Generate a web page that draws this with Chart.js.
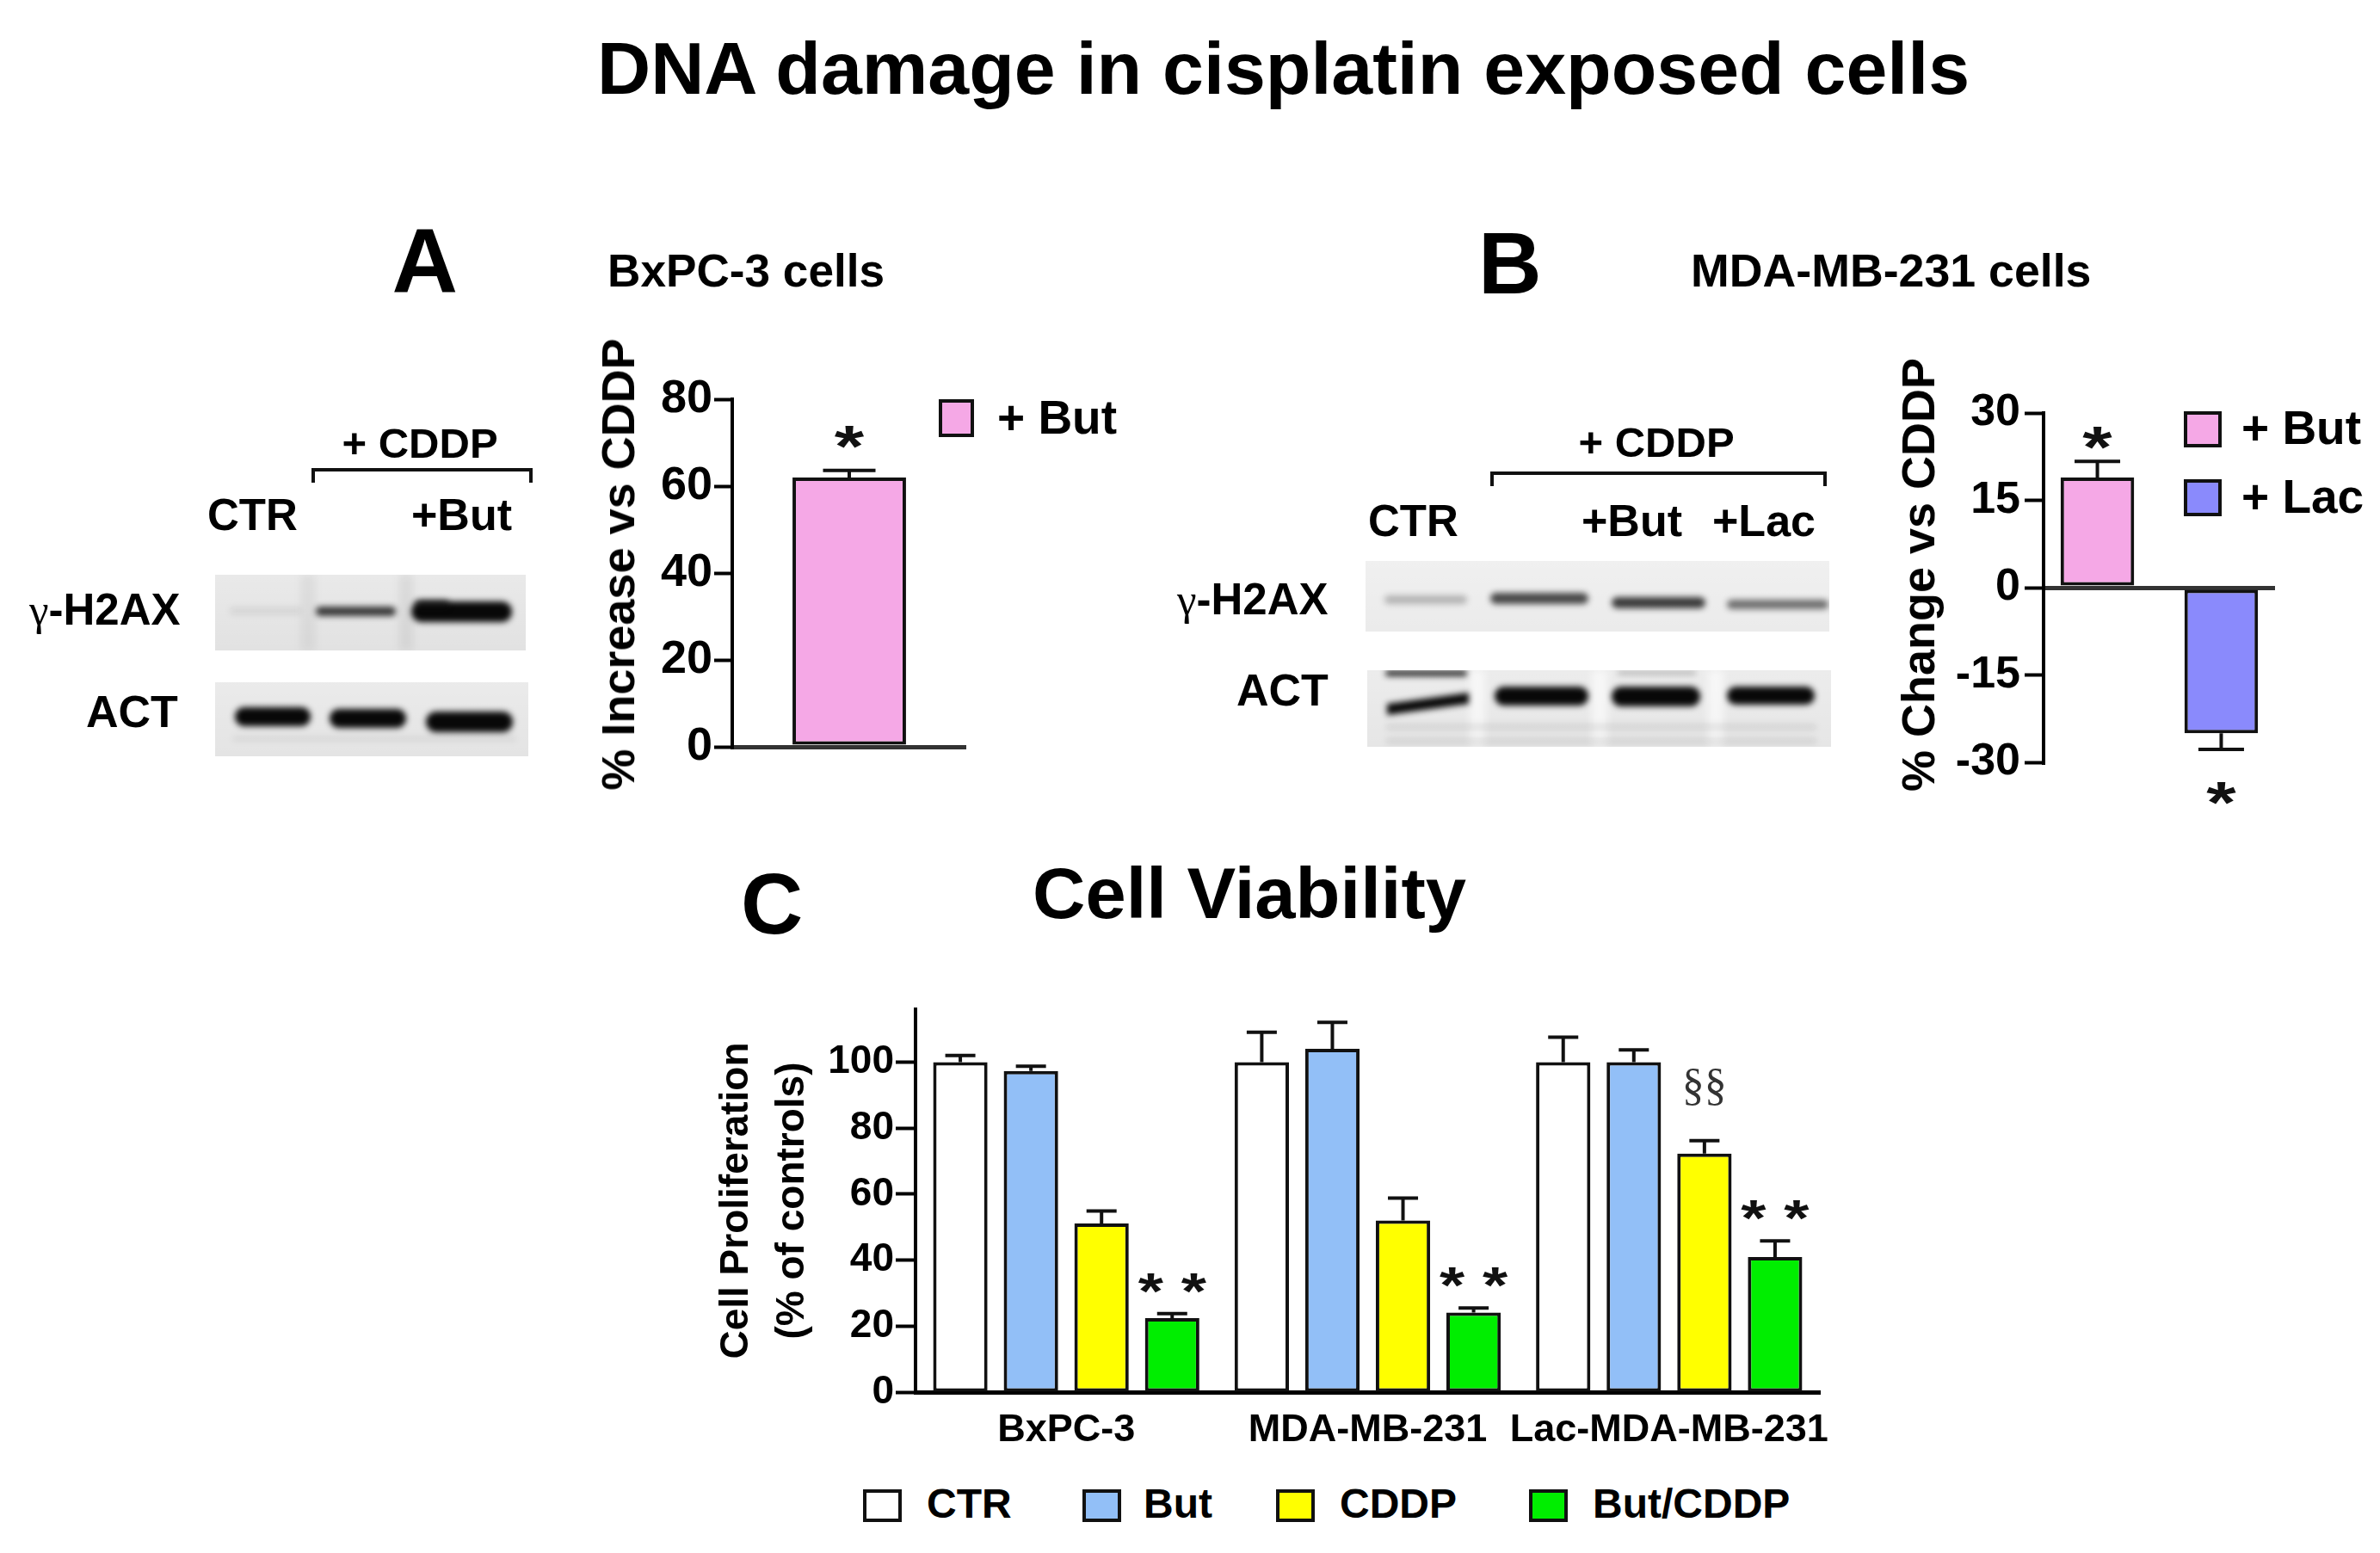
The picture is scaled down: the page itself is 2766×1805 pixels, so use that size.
<!DOCTYPE html>
<html>
<head>
<meta charset="utf-8">
<title>DNA damage in cisplatin exposed cells</title>
<script src="https://cdn.jsdelivr.net/npm/chart.js@4.4.1/dist/chart.umd.min.js"></script>
<style>
html, body { margin: 0; padding: 0; background: #fff; }
#page { position: relative; width: 2766px; height: 1805px; overflow: hidden;
  font-family: "Liberation Sans", Arial, sans-serif; font-weight: bold; color: #000; }
.t { position: absolute; white-space: nowrap; line-height: 1; }
.g { font-family: "Liberation Serif", serif; font-weight: normal; }
.key { position: absolute; box-sizing: border-box; border: 4px solid #111; }
.brk { position: absolute; box-sizing: border-box; border: 4px solid #111; border-bottom: none; }
.plot { position: absolute; }
canvas.blot { position: absolute; }
</style>
</head>
<body>
<div id="page">
  <canvas class="blot" id="blotAg"></canvas>
  <canvas class="blot" id="blotAa"></canvas>
  <canvas class="blot" id="blotBg"></canvas>
  <canvas class="blot" id="blotBa"></canvas>
  <div class="brk" style="left:362px;top:544px;width:257px;height:17px"></div>
  <div class="brk" style="left:1732px;top:548px;width:391px;height:17px"></div>
  <div class="plot" style="left:651px;top:424px;width:482px;height:484px"><canvas id="chartA"></canvas></div>
  <div class="plot" style="left:2175px;top:440px;width:479px;height:506px"><canvas id="chartB"></canvas></div>
  <div class="plot" style="left:814px;top:1143px;width:1311px;height:570px"><canvas id="chartC"></canvas></div>
  <div class="key" id="keyA" style="left:1091px;top:464px;width:41px;height:44px"></div>
  <div class="key" id="keyB1" style="left:2538px;top:478px;width:44px;height:42px"></div>
  <div class="key" id="keyB2" style="left:2538px;top:557px;width:44px;height:43px"></div>
  <div class="key" id="keyC0" style="left:1003px;top:1731px;width:45px;height:38px"></div>
  <div class="key" id="keyC1" style="left:1258px;top:1731px;width:45px;height:38px"></div>
  <div class="key" id="keyC2" style="left:1483px;top:1731px;width:45px;height:38px"></div>
  <div class="key" id="keyC3" style="left:1777px;top:1731px;width:45px;height:38px"></div>
</div>
<script>
// ---- data ----
// panel A: BxPC-3, % increase of gamma-H2AX vs CDDP
const catsA = ['BxPC-3'];
const butA = [62.0];
const butAErr = [1.6];
const butAMarks = ['*'];

// panel B: MDA-MB-231, % change vs CDDP
const catsB = ['MDA-MB-231'];
const butB = [18.9];
const butBErr = [2.8];
const butBMarks = ['*'];
const lacB = [-25.0];
const lacBErr = [2.8];
const lacBMarks = ['*'];

// panel C: cell viability (% of controls)
const groupsC = ['BxPC-3', 'MDA-MB-231', 'Lac-MDA-MB-231'];
const seriesC = ['CTR', 'But', 'CDDP', 'But/CDDP'];
const ctrC = [100, 100, 100];
const ctrErrC = [2.0, 9.0, 7.5];
const butC = [97.3, 104, 100];
const butErrC = [1.4, 8.0, 3.7];
const cddpC = [51.1, 52.0, 72.3];
const cddpErrC = [3.8, 6.8, 3.9];
const comboC = [22.4, 24.1, 40.9];
const comboErrC = [1.4, 1.4, 4.9];
const cddpMarksC = ['', '', '§§'];
const comboMarksC = ['* *', '* *', '* *'];

const PINK = '#F5A8E6';
const LAC_BLUE = '#8A8AFC';
const BUT_BLUE = '#92BFF7';
const YELLOW = '#FFFF00';
const GREEN = '#00EE00';
const EDGE = '#111';
const colorsC = ['#FFFFFF', BUT_BLUE, YELLOW, GREEN];

const page = document.getElementById('page');

// text placed by baseline; anchor left / center / right; optional width fit
function text(str, x, base, size, anchor, width) {
  const el = document.createElement('div');
  el.className = 't';
  el.innerHTML = str;
  el.style.fontSize = size + 'px';
  el.style.top = (base - 0.8465 * size) + 'px';
  el.style.left = '0px';
  page.appendChild(el);
  const w = el.offsetWidth;
  const k = width ? width / w : 1;
  let left = x - w * k / 2;
  if (anchor === 'left') left = x;
  if (anchor === 'right') left = x - w * k;
  el.style.left = left + 'px';
  el.style.transformOrigin = '0 0';
  if (k !== 1) el.style.transform = 'scaleX(' + k + ')';
}

// vertical (rotated) axis title centred on cx, cy
function vtext(str, cx, cy, size) {
  const el = document.createElement('div');
  el.className = 't';
  el.textContent = str;
  el.style.fontSize = size + 'px';
  el.style.left = cx + 'px';
  el.style.top = cy + 'px';
  el.style.transform = 'translate(-50%, -50%) rotate(-90deg)';
  page.appendChild(el);
}

text('DNA damage in cisplatin exposed cells', 1491, 109, 86, 'center', 1595);
text('A', 494, 340, 106, 'center');
text('BxPC-3 cells', 706, 333, 53, 'left', 322);
text('B', 1755, 341, 102, 'center');
text('MDA-MB-231 cells', 1965, 333, 53, 'left', 465);
text('C', 897, 1085, 100, 'center');
text('Cell Viability', 1452, 1067, 84, 'center', 504);

text('+ CDDP', 488, 532, 49, 'center');
text('CTR', 241, 616, 51, 'left');
text('+But', 478, 616, 52, 'left');
text('<span class="g">γ</span>-H2AX', 210, 726, 51, 'right');
text('ACT', 207, 845, 52, 'right');

text('+ CDDP', 1925, 531, 49, 'center');
text('CTR', 1590, 623, 51, 'left');
text('+But', 1838, 623, 52, 'left');
text('+Lac', 1990, 623, 52, 'left');
text('<span class="g">γ</span>-H2AX', 1544, 714, 51, 'right');
text('ACT', 1544, 820, 52, 'right');

vtext('% Increase vs CDDP', 718, 656, 54);
vtext('% Change vs CDDP', 2229, 668, 54);

text('+ But', 1159, 505, 55, 'left');
text('+ But', 2605, 517, 55, 'left');
text('+ Lac', 2605, 597, 55, 'left');
document.getElementById('keyA').style.background = PINK;
document.getElementById('keyB1').style.background = PINK;
document.getElementById('keyB2').style.background = LAC_BLUE;

// legend of panel C
const keyTextX = [1077, 1329, 1557, 1851];
seriesC.forEach((s, i) => {
  document.getElementById('keyC' + i).style.background = colorsC[i];
  text(s, keyTextX[i], 1765, 48, 'left');
});

// ---- western blot strips ----
function rr(ctx, x, y, w, h) {
  const r = Math.min(h / 2, w / 2);
  ctx.beginPath();
  ctx.moveTo(x + r, y);
  ctx.lineTo(x + w - r, y);
  ctx.arc(x + w - r, y + r, r, -Math.PI / 2, Math.PI / 2);
  ctx.lineTo(x + r, y + h);
  ctx.arc(x + r, y + r, r, Math.PI / 2, Math.PI * 1.5);
  ctx.closePath();
}

function drawBlot(id, b) {
  const cv = document.getElementById(id);
  cv.width = b.w; cv.height = b.h;
  cv.style.left = b.x + 'px'; cv.style.top = b.y + 'px';
  const ctx = cv.getContext('2d');
  ctx.fillStyle = b.bg;
  ctx.fillRect(0, 0, b.w, b.h);
  const gr = ctx.createLinearGradient(0, 0, 0, b.h);
  gr.addColorStop(0, 'rgba(255,255,255,0.25)');
  gr.addColorStop(1, 'rgba(255,255,255,0)');
  ctx.fillStyle = gr;
  ctx.fillRect(0, 0, b.w, b.h);
  ctx.filter = 'blur(5px)';
  (b.seps || []).forEach(s => {
    ctx.fillStyle = s.c;
    ctx.fillRect(s.x - s.w / 2, 0, s.w, b.h);
  });
  ctx.filter = 'blur(3.5px)';
  b.bands.forEach(d => {
    ctx.fillStyle = 'rgba(8,8,8,' + d.a + ')';
    if (d.slant) {
      ctx.beginPath();
      ctx.moveTo(d.x, d.y);
      ctx.lineTo(d.x + d.w, d.y - d.slant);
      ctx.lineTo(d.x + d.w, d.y - d.slant + d.h);
      ctx.lineTo(d.x, d.y + d.h);
      ctx.closePath();
    } else {
      rr(ctx, d.x, d.y, d.w, d.h);
    }
    ctx.fill();
  });
  ctx.filter = 'none';
}

drawBlot('blotAg', { x: 250, y: 668, w: 361, h: 88, bg: '#e2e2e2',
  seps: [{ x: 108, w: 16, c: 'rgba(0,0,0,0.05)' }, { x: 222, w: 16, c: 'rgba(0,0,0,0.06)' }],
  bands: [{ x: 17, y: 38, w: 83, h: 8, a: 0.08 }, { x: 117, y: 37, w: 93, h: 11, a: 0.78 },
          { x: 228, y: 31, w: 117, h: 24, a: 1 }, { x: 232, y: 29, w: 40, h: 9, a: 0.6 }] });
drawBlot('blotAa', { x: 250, y: 793, w: 364, h: 86, bg: '#e4e4e4',
  bands: [{ x: 23, y: 29, w: 88, h: 22, a: 1 }, { x: 133, y: 31, w: 89, h: 22, a: 1 },
          { x: 245, y: 34, w: 101, h: 24, a: 1 }, { x: 20, y: 62, w: 330, h: 7, a: 0.05 }] });
drawBlot('blotBg', { x: 1587, y: 652, w: 539, h: 82, bg: '#ebebeb',
  bands: [{ x: 22, y: 40, w: 96, h: 10, a: 0.25 }, { x: 145, y: 37, w: 114, h: 13, a: 0.72 },
          { x: 286, y: 42, w: 109, h: 13, a: 0.78 }, { x: 420, y: 45, w: 118, h: 11, a: 0.55 }] });
drawBlot('blotBa', { x: 1589, y: 779, w: 539, h: 89, bg: '#e6e6e6',
  seps: [{ x: 128, w: 18, c: 'rgba(255,255,255,0.6)' }, { x: 270, w: 18, c: 'rgba(255,255,255,0.6)' },
         { x: 405, w: 18, c: 'rgba(255,255,255,0.6)' }],
  bands: [{ x: 21, y: 0, w: 95, h: 7, a: 0.85 }, { x: 23, y: 39, w: 95, h: 13, a: 1, slant: 13 },
          { x: 148, y: 19, w: 109, h: 22, a: 1 }, { x: 284, y: 19, w: 103, h: 23, a: 1 },
          { x: 418, y: 19, w: 102, h: 21, a: 1 }, { x: 291, y: 1, w: 91, h: 4, a: 0.3 },
          { x: 22, y: 63, w: 500, h: 6, a: 0.1 }, { x: 22, y: 79, w: 500, h: 6, a: 0.1 }] });

// ---- chart helpers ----
Chart.defaults.font.family = '"Liberation Sans", Arial, sans-serif';
Chart.defaults.font.weight = 'bold';
Chart.defaults.color = '#000';

const errorBars = {
  id: 'errorBars',
  afterDatasetsDraw(chart, args, opts) {
    const ctx = chart.ctx, y = chart.scales.y;
    chart.data.datasets.forEach((ds, di) => {
      if (!ds.errors) return;
      chart.getDatasetMeta(di).data.forEach((bar, i) => {
        const v = ds.data[i], e = ds.errors[i];
        const y0 = y.getPixelForValue(v);
        const y1 = y.getPixelForValue(v < 0 ? v - e : v + e);
        ctx.save();
        ctx.strokeStyle = EDGE;
        ctx.lineWidth = opts.width;
        ctx.beginPath();
        ctx.moveTo(bar.x, y0); ctx.lineTo(bar.x, y1);
        ctx.moveTo(bar.x - opts.cap / 2, y1); ctx.lineTo(bar.x + opts.cap / 2, y1);
        ctx.stroke();
        ctx.restore();
      });
    });
  }
};

const sigMarks = {
  id: 'sigMarks',
  afterDatasetsDraw(chart, args, opts) {
    const ctx = chart.ctx, y = chart.scales.y;
    chart.data.datasets.forEach((ds, di) => {
      if (!ds.marks) return;
      chart.getDatasetMeta(di).data.forEach((bar, i) => {
        const t = ds.marks[i];
        if (!t) return;
        const st = opts.styles[t.trim()[0]];
        const v = ds.data[i], e = ds.errors ? ds.errors[i] : 0;
        const down = v < 0;
        const edge = y.getPixelForValue(down ? v - e : v + e);
        const cy = down ? edge + st.gapDown : edge - st.gap;
        ctx.save();
        ctx.font = st.font;
        ctx.fillStyle = st.color;
        ctx.textAlign = 'center';
        ctx.textBaseline = 'alphabetic';
        ctx.translate(bar.x, cy + st.lift);
        ctx.scale(st.sx, 1);
        ctx.fillText(t, 0, 0);
        ctx.restore();
      });
    });
  }
};

const zeroLine = c => (c.tick && c.tick.value === 0) ? '#333' : 'transparent';

// ---- panel A chart ----
new Chart(document.getElementById('chartA'), {
  type: 'bar',
  data: {
    labels: catsA,
    datasets: [{ label: '+ But', data: butA, errors: butAErr, marks: butAMarks,
      backgroundColor: PINK, borderColor: EDGE, borderWidth: 4, borderSkipped: false,
      barPercentage: 0.485, categoryPercentage: 1 }]
  },
  options: {
    responsive: true, maintainAspectRatio: false, animation: false,
    layout: { padding: { left: 0, right: 10, top: 40, bottom: 40 } },
    plugins: {
      legend: { display: false }, tooltip: { enabled: false },
      errorBars: { cap: 61, width: 4 },
      sigMarks: { styles: { '*': { font: 'bold 68px "Liberation Sans"', color: EDGE, gap: 44, gapDown: 44, lift: 39, sx: 1.3 } } }
    },
    scales: {
      x: { display: false },
      y: {
        min: 0, max: 80,
        ticks: { stepSize: 20, font: { size: 54, weight: 'bold' }, color: '#000', padding: 2 },
        grid: { color: zeroLine, lineWidth: 5, tickColor: '#000', tickLength: 21, tickWidth: 4 },
        border: { color: '#000', width: 4 },
        afterFit: s => { s.width = 200; }
      }
    }
  },
  plugins: [errorBars, sigMarks]
});

// ---- panel B chart ----
new Chart(document.getElementById('chartB'), {
  type: 'bar',
  data: {
    labels: catsB,
    datasets: [
      { label: '+ But', data: butB, errors: butBErr, marks: butBMarks,
        backgroundColor: PINK, borderColor: EDGE, borderWidth: 4, borderSkipped: false,
        barPercentage: 0.594, categoryPercentage: 1.07 },
      { label: '+ Lac', data: lacB, errors: lacBErr, marks: lacBMarks,
        backgroundColor: LAC_BLUE, borderColor: EDGE, borderWidth: 4, borderSkipped: false,
        barPercentage: 0.594, categoryPercentage: 1.07 }
    ]
  },
  options: {
    responsive: true, maintainAspectRatio: false, animation: false,
    layout: { padding: { left: 0, right: 10, top: 40, bottom: 60 } },
    plugins: {
      legend: { display: false }, tooltip: { enabled: false },
      errorBars: { cap: 53, width: 4 },
      sigMarks: { styles: { '*': { font: 'bold 68px "Liberation Sans"', color: EDGE, gap: 32, gapDown: 46, lift: 39, sx: 1.3 } } }
    },
    scales: {
      x: { display: false },
      y: {
        min: -30, max: 30,
        ticks: { stepSize: 15, font: { size: 52, weight: 'bold' }, color: '#000', padding: 5 },
        grid: { color: zeroLine, lineWidth: 5, tickColor: '#000', tickLength: 22, tickWidth: 4 },
        border: { color: '#000', width: 4 },
        afterFit: s => { s.width = 200; }
      }
    }
  },
  plugins: [errorBars, sigMarks]
});

// ---- panel C chart ----
const barC = { borderColor: EDGE, borderWidth: 4, borderSkipped: false,
  barPercentage: 0.77, categoryPercentage: 0.937 };
new Chart(document.getElementById('chartC'), {
  type: 'bar',
  data: {
    labels: groupsC,
    datasets: [
      Object.assign({ label: seriesC[0], data: ctrC, errors: ctrErrC, backgroundColor: colorsC[0] }, barC),
      Object.assign({ label: seriesC[1], data: butC, errors: butErrC, backgroundColor: colorsC[1] }, barC),
      Object.assign({ label: seriesC[2], data: cddpC, errors: cddpErrC, marks: cddpMarksC, backgroundColor: colorsC[2] }, barC),
      Object.assign({ label: seriesC[3], data: comboC, errors: comboErrC, marks: comboMarksC, backgroundColor: colorsC[3] }, barC)
    ]
  },
  options: {
    responsive: true, maintainAspectRatio: false, animation: false,
    layout: { padding: { left: 0, right: 10, top: 30, bottom: 5 } },
    plugins: {
      tooltip: { enabled: false },
      legend: { display: false },
      errorBars: { cap: 35, width: 4 },
      sigMarks: { styles: {
        '*': { font: 'bold 60px "Liberation Sans"', color: EDGE, gap: 40, gapDown: 40, lift: 34, sx: 1.25 },
        '§': { font: '52px "Liberation Serif"', color: '#333', gap: 62, gapDown: 62, lift: 14.5, sx: 1 }
      } }
    },
    scales: {
      x: {
        ticks: { font: { size: 45, weight: 'bold' }, color: '#000', padding: 18, maxRotation: 0, autoSkip: false },
        grid: { display: false, drawTicks: false },
        border: { color: '#000', width: 5 },
        afterFit: s => { s.height = 90; s.paddingLeft = 0; s.paddingRight = 0; }
      },
      y: {
        min: 0, max: 116,
        ticks: { stepSize: 20, includeBounds: false, font: { size: 46, weight: 'bold' }, color: '#000', padding: 2 },
        grid: { drawOnChartArea: false, tickColor: '#000', tickLength: 23, tickWidth: 4 },
        border: { color: '#000', width: 4 },
        title: { display: true, text: ['Cell Proliferation', '(% of controls)'], color: '#000',
          font: { size: 46, weight: 'bold', lineHeight: 1.41 }, padding: { top: 9.6, bottom: 0 } },
        afterFit: s => { s.width = 250; }
      }
    }
  },
  plugins: [errorBars, sigMarks]
});
</script>
</body>
</html>
